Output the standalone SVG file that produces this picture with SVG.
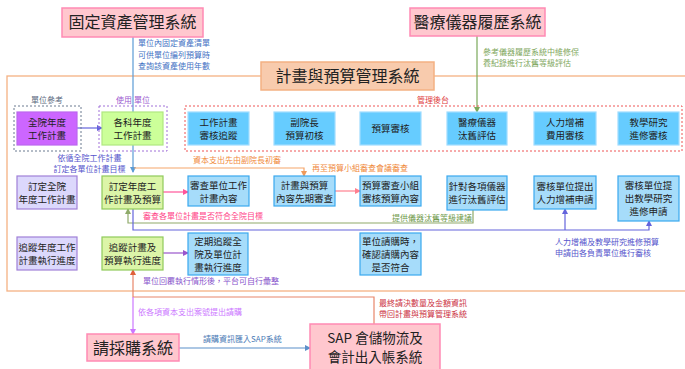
<svg xmlns="http://www.w3.org/2000/svg" width="685" height="369" viewBox="0 0 685 369">
<defs>
<style>
text{font-family:"Noto Sans CJK TC","Noto Sans CJK SC",sans-serif;fill:#222}
.t{font-size:9.5px;text-anchor:middle}
.big{font-size:16px;text-anchor:middle;fill:#222}
.sap{font-size:13.5px;text-anchor:middle;fill:#222}
.lb{font-size:8px}
.sys{fill:#ffc7ce;stroke:#ff8ab4;stroke-width:1.5}
.pl{fill:#f8cbad;stroke:#f4b183;stroke-width:1.5}
.pur{fill:#cc66ff;stroke:#bb66ee;stroke-width:1.2}
.grn{fill:#ccff99;stroke:#b0e880;stroke-width:1.2}
.mb{fill:#66ccff;stroke:#a0dcff;stroke-width:1.2}
.lav{fill:#dcd8fc;stroke:#a080d8;stroke-width:1.2}
.lg{fill:#dcf5a8;stroke:#8fca5a;stroke-width:1.2}
.lb2{fill:#a6dcfa;stroke:#3aa8ee;stroke-width:1.2}
.c{fill:none;stroke-width:1.2}
</style>
<marker id="aBlue" markerWidth="6" markerHeight="6" refX="5" refY="3" orient="auto" markerUnits="userSpaceOnUse"><path d="M0,0 L6,3 L0,6 z" fill="#5b9bd5"/></marker>
<marker id="aGreen" markerWidth="6" markerHeight="6" refX="5" refY="3" orient="auto" markerUnits="userSpaceOnUse"><path d="M0,0 L6,3 L0,6 z" fill="#7aa85a"/></marker>
<marker id="aBP" markerWidth="6" markerHeight="6" refX="5" refY="3" orient="auto" markerUnits="userSpaceOnUse"><path d="M0,0 L6,3 L0,6 z" fill="#6464dc"/></marker>
<marker id="aOr" markerWidth="6" markerHeight="6" refX="5" refY="3" orient="auto" markerUnits="userSpaceOnUse"><path d="M0,0 L6,3 L0,6 z" fill="#f09a5a"/></marker>
<marker id="aPink" markerWidth="6" markerHeight="6" refX="5" refY="3" orient="auto" markerUnits="userSpaceOnUse"><path d="M0,0 L6,3 L0,6 z" fill="#ff5599"/></marker>
<marker id="aPink2" markerWidth="6" markerHeight="6" refX="5" refY="3" orient="auto" markerUnits="userSpaceOnUse"><path d="M0,0 L6,3 L0,6 z" fill="#ff8090"/></marker>
<marker id="aGG" markerWidth="6" markerHeight="6" refX="5" refY="3" orient="auto" markerUnits="userSpaceOnUse"><path d="M0,0 L6,3 L0,6 z" fill="#8faa6a"/></marker>
<marker id="aPu" markerWidth="6" markerHeight="6" refX="5" refY="3" orient="auto" markerUnits="userSpaceOnUse"><path d="M0,0 L6,3 L0,6 z" fill="#9955cc"/></marker>
<marker id="aRed" markerWidth="6" markerHeight="6" refX="5" refY="3" orient="auto" markerUnits="userSpaceOnUse"><path d="M0,0 L6,3 L0,6 z" fill="#e0603a"/></marker>
<marker id="aVi" markerWidth="6" markerHeight="6" refX="5" refY="3" orient="auto" markerUnits="userSpaceOnUse"><path d="M0,0 L6,3 L0,6 z" fill="#cc77ff"/></marker>
<marker id="aSB" markerWidth="6" markerHeight="6" refX="5" refY="3" orient="auto" markerUnits="userSpaceOnUse"><path d="M0,0 L6,3 L0,6 z" fill="#5b8fc9"/></marker>
</defs>
<rect width="685" height="369" fill="#fff"/>

<!-- container -->
<rect x="7" y="76" width="700" height="215" fill="none" stroke="#f4b183" stroke-width="1.3"/>

<g id="connectors">
<path class="c" d="M133,37 V172" stroke="#5b9bd5" marker-end="url(#aBlue)"/>
<path class="c" d="M477,36 V112" stroke="#7aa85a" marker-end="url(#aGreen)"/>
<path class="c" d="M77,128 H102" stroke="#6464dc" marker-end="url(#aBP)"/>
<path class="c" d="M134,168 H304 V176" stroke="#f5a56a" marker-end="url(#aOr)"/>
<path class="c" d="M163,192 H188" stroke="#ff5599" marker-end="url(#aPink)"/>
<path class="c" d="M335,191 H360" stroke="#ff8090" marker-end="url(#aPink2)"/>
<path class="c" d="M473,210 V223 H128 V209" stroke="#8faa6a" marker-end="url(#aGG)"/>
<path class="c" d="M133,209 V230 H649 V221" stroke="#6464dc" marker-end="url(#aBP)"/>
<path class="c" d="M565,230 V209" stroke="#6464dc" marker-end="url(#aBP)"/>
<path class="c" d="M163,253 H188" stroke="#9955cc" marker-end="url(#aPu)"/>
<path class="c" d="M374,324 V297 H133 V270" stroke="#e8866a" marker-end="url(#aRed)"/>
<path class="c" d="M133,297 V334" stroke="#cc77ff" marker-end="url(#aVi)"/>
<path class="c" d="M179,348 H310" stroke="#5b8fc9" marker-end="url(#aSB)"/>
</g>

<g id="fixed-asset"><rect class="sys" x="62" y="8" width="141" height="29"/><text class="big" x="132.5" y="28">固定資產管理系統</text></g>
<g id="med-history"><rect class="sys" x="410" y="8" width="135" height="28"/><text class="big" x="477.5" y="28">醫療儀器履歷系統</text></g>
<g id="plan-system"><rect class="pl" x="261" y="62" width="173" height="28"/><text class="big" x="347.5" y="82">計畫與預算管理系統</text></g>

<g id="grp-ref"><rect x="14" y="106" width="67" height="45" fill="none" stroke="#6a7a90" stroke-width="1" stroke-dasharray="2,2"/><text class="lb" x="47" y="103" text-anchor="middle" style="fill:#5a6a80">單位參考</text></g>
<g id="grp-use"><rect x="99" y="106" width="68" height="45" fill="none" stroke="#a070d8" stroke-width="1" stroke-dasharray="2,2"/><text class="lb" x="133" y="103" text-anchor="middle" style="fill:#9b59d0">使用 單位</text></g>
<g id="grp-admin"><rect x="185" y="106" width="497" height="45" fill="none" stroke="#ee5555" stroke-width="1" stroke-dasharray="2,2"/><text class="lb" x="433" y="103" text-anchor="middle" style="fill:#e04040">管理後台</text></g>

<g id="n-hosp-plan"><rect class="pur" x="17" y="112" width="60" height="33"/><text class="t" x="47" y="126">全院年度</text><text class="t" x="47" y="139">工作計畫</text></g>
<g id="n-dept-plan"><rect class="grn" x="102" y="112" width="61" height="33"/><text class="t" x="132.5" y="126">各科年度</text><text class="t" x="132.5" y="139">工作計畫</text></g>
<g id="n-m1"><rect class="mb" x="188" y="112" width="61" height="33"/><text class="t" x="218.5" y="126">工作計畫</text><text class="t" x="218.5" y="139">審核追蹤</text></g>
<g id="n-m2"><rect class="mb" x="274" y="112" width="61" height="33"/><text class="t" x="304.5" y="126">副院長</text><text class="t" x="304.5" y="139">預算初核</text></g>
<g id="n-m3"><rect class="mb" x="360" y="112" width="61" height="33"/><text class="t" x="390.5" y="132">預算審核</text></g>
<g id="n-m4"><rect class="mb" x="447" y="112" width="60" height="33"/><text class="t" x="477" y="126">醫療儀器</text><text class="t" x="477" y="139">汰舊評估</text></g>
<g id="n-m5"><rect class="mb" x="534" y="112" width="62" height="33"/><text class="t" x="565" y="126">人力增補</text><text class="t" x="565" y="139">費用審核</text></g>
<g id="n-m6"><rect class="mb" x="618" y="112" width="61" height="33"/><text class="t" x="648.5" y="126">教學研究</text><text class="t" x="648.5" y="139">進修審核</text></g>

<g id="n-l1"><rect class="lav" x="17" y="176" width="60" height="33"/><text class="t" x="47" y="190">訂定全院</text><text class="t" x="47" y="203">年度工作計畫</text></g>
<g id="n-g1"><rect class="lg" x="102" y="176" width="61" height="33"/><text class="t" x="132.5" y="190">訂定年度工</text><text class="t" x="132.5" y="203">作計畫及預算</text></g>
<g id="n-b1"><rect class="lb2" x="188" y="176" width="61" height="30"/><text class="t" x="218.5" y="189">審查單位工作</text><text class="t" x="218.5" y="202">計畫內容</text></g>
<g id="n-b2"><rect class="lb2" x="274" y="176" width="61" height="30"/><text class="t" x="304.5" y="189">計畫與預算</text><text class="t" x="304.5" y="202">內容先期審查</text></g>
<g id="n-b3"><rect class="lb2" x="360" y="176" width="61" height="30"/><text class="t" x="390.5" y="189">預算審查小組</text><text class="t" x="390.5" y="202">審核預算內容</text></g>
<g id="n-b4"><rect class="lb2" x="447" y="176" width="60" height="34"/><text class="t" x="477" y="190">針對各項儀器</text><text class="t" x="477" y="203">進行汰舊評估</text></g>
<g id="n-b5"><rect class="lb2" x="534" y="176" width="62" height="33"/><text class="t" x="565" y="190">審核單位提出</text><text class="t" x="565" y="203">人力增補申請</text></g>
<g id="n-b6"><rect class="lb2" x="618" y="176" width="61" height="45"/><text class="t" x="648.5" y="189">審核單位提</text><text class="t" x="648.5" y="202">出教學研究</text><text class="t" x="648.5" y="215">進修申請</text></g>

<g id="n-l2"><rect class="lav" x="17" y="237" width="60" height="33"/><text class="t" x="47" y="251">追蹤年度工作</text><text class="t" x="47" y="264">計畫執行進度</text></g>
<g id="n-g2"><rect class="lg" x="102" y="237" width="61" height="33"/><text class="t" x="132.5" y="251">追蹤計畫及</text><text class="t" x="132.5" y="264">預算執行進度</text></g>
<g id="n-b7"><rect class="lb2" x="188" y="233" width="60" height="42"/><text class="t" x="218" y="245">定期追蹤全</text><text class="t" x="218" y="258">院及單位計</text><text class="t" x="218" y="271">畫執行進度</text></g>
<g id="n-b8"><rect class="lb2" x="360" y="233" width="61" height="42"/><text class="t" x="390.5" y="245">單位請購時，</text><text class="t" x="390.5" y="258">確認請購內容</text><text class="t" x="390.5" y="271">是否符合</text></g>

<g id="n-purchase"><rect class="sys" x="87" y="334" width="92" height="27"/><text class="big" x="133" y="354">請採購系統</text></g>
<g id="n-sap"><rect class="sys" x="310" y="324" width="130" height="52"/><text class="sap" x="375" y="343">SAP 倉儲物流及</text><text class="sap" x="375" y="362">會計出入帳系統</text></g>

<g id="labels" class="lb">
<text x="138" y="46" style="fill:#4472c4">單位內固定資產清單</text>
<text x="138" y="58" style="fill:#4472c4">可供單位編列預算時</text>
<text x="138" y="69" style="fill:#4472c4">查詢該資產使用年數</text>
<text x="483" y="55" style="fill:#7fa860">參考儀器履歷系統中維修保</text>
<text x="483" y="66" style="fill:#7fa860">養紀錄進行汰舊等級評估</text>
<text x="89.5" y="161" text-anchor="middle" style="fill:#5555cc">依循全院工作計畫</text>
<text x="89.5" y="172" text-anchor="middle" style="fill:#5555cc">訂定各單位計畫目標</text>
<text x="193" y="163" style="fill:#f08a40">資本支出先由副院長初審</text>
<text x="312" y="171" style="fill:#f08a40">再至預算小組審查會議審查</text>
<text x="143" y="219" style="fill:#ff4488">審查各單位計畫是否符合全院目標</text>
<text x="392" y="221" style="fill:#6f9a4a">提供儀器汰舊等級建議</text>
<text x="555" y="245" style="fill:#5555cc">人力增補及教學研究進修預算</text>
<text x="555" y="256" style="fill:#5555cc">申請由各負責單位進行審核</text>
<text x="143" y="284" style="fill:#8855cc">單位回覆執行情形後，平台可自行彙整</text>
<text x="138" y="315" style="fill:#cc77ff">依各項資本支出案號提出請購</text>
<text x="379" y="306" style="fill:#cc3344">最終請決數量及金額資訊</text>
<text x="379" y="317" style="fill:#cc3344">帶回計畫與預算管理系統</text>
<text x="203" y="342" style="fill:#4a7ab5">請購資訊匯入SAP系統</text>
</g>
</svg>
